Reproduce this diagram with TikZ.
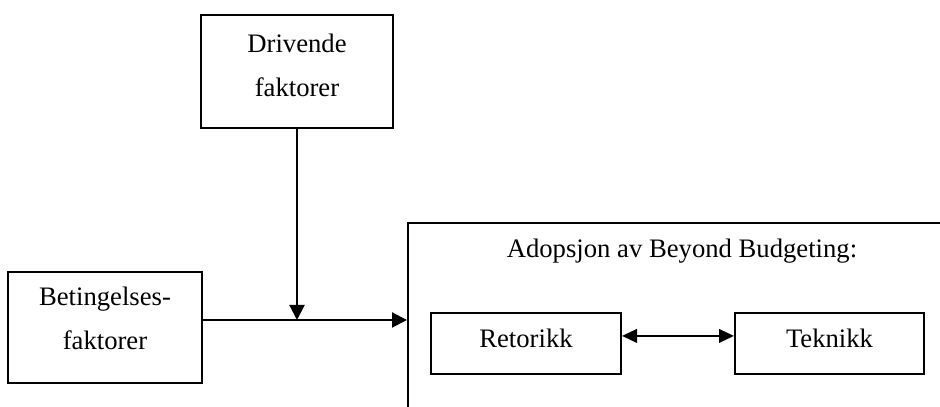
\documentclass[tikz,border=0pt]{standalone}
\usepackage{fontspec}
\setmainfont{Liberation Serif}
\usetikzlibrary{arrows.meta}

\tikzset{
    box/.style={draw, line width=0.9pt, inner sep=0pt, align=center,
        font=\fontsize{12}{20}\selectfont},
    arrow/.style={line width=0.9pt, -{Triangle[length=6.75pt,width=6.75pt]}},
    twoway/.style={line width=0.9pt,
        {Triangle[length=6.75pt,width=6.1pt]}-{Triangle[length=6.75pt,width=6.1pt]}}
}

\begin{document}
\begin{tikzpicture}[x=0.45pt, y=-0.45pt]
    % Fix the picture size
    \useasboundingbox (0,0) rectangle (940,407);
    \clip (0,0) rectangle (940,407);

    % Draw the factor boxes
    \node[box, minimum width=86.4pt, minimum height=50.85pt, text height=28.2pt, text depth=5.25pt] (driv) at (297,71.5) {Drivende\\faktorer};
    \node[box, minimum width=87.3pt, minimum height=49.95pt, text height=28.2pt, text depth=7.95pt] (bet) at (105,327.5) {Betingelses-\\faktorer};

    % Draw the adoption box, cut off at the page edge
    \node[box, minimum width=246.6pt, minimum height=97.65pt] (adop) at (682,331.5) {};
    \node[font=\fontsize{12}{20}\selectfont, anchor=base, inner sep=0pt] (title) at (682,258) {Adopsjon av Beyond Budgeting:};
    \node[box, minimum width=85.5pt, minimum height=27.45pt, text height=8.2pt, text depth=5pt] (ret) at (526,343.5) {Retorikk};
    \node[box, minimum width=85.05pt, minimum height=27.45pt, text height=8.2pt, text depth=5pt] (tek) at (829.5,343.5) {Teknikk};

    % Draw the arrows
    \coordinate (meet) at (297,320);
    \draw[arrow] (driv.south) -- (meet);
    \draw[arrow] (bet.east |- meet) -- (adop.west |- meet);
    \draw[twoway] ([yshift=3.4pt]ret.east) -- ([yshift=3.4pt]tek.west);

\end{tikzpicture}
\end{document}
